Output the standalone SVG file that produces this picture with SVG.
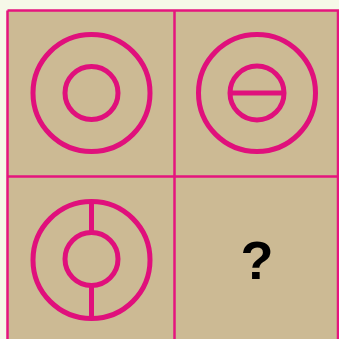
<svg xmlns="http://www.w3.org/2000/svg" width="339" height="339" viewBox="0 0 339 339">
<style>
.ln{stroke:#e5157e;stroke-width:2.5;fill:none}
.sym{stroke:#e0107c;stroke-width:5;fill:none}
</style>
<rect x="0" y="0" width="339" height="339" fill="#f6f8e8"/>
<rect x="7.5" y="10.5" width="340" height="340" fill="#ccba94"/>
<g id="grid">
<path class="ln" d="M7.5 10.5V339M7.5 10.5H339M174.5 10.5V339M7.5 176.5H339M338 10.5V339"/>
</g>
<g id="cell1">
<circle class="sym" cx="91.5" cy="93" r="58.5"/>
<circle class="sym" cx="91.5" cy="93" r="26.5"/>
</g>
<g id="cell2">
<circle class="sym" cx="257" cy="93" r="58.5"/>
<circle class="sym" cx="257" cy="93" r="27"/>
<line class="sym" x1="230" y1="93" x2="284" y2="93"/>
</g>
<g id="cell3">
<circle class="sym" cx="91.5" cy="260" r="58.5"/>
<circle class="sym" cx="91.5" cy="259" r="26.5"/>
<line class="sym" x1="91.5" y1="201.5" x2="91.5" y2="232.5"/>
<line class="sym" x1="91.5" y1="285.5" x2="91.5" y2="318.5"/>
</g>
<g id="cell4">
<text x="257" y="279" font-family="Liberation Sans, Arial, sans-serif" font-weight="bold" font-size="54" text-anchor="middle" fill="#000">?</text>
</g>
</svg>
